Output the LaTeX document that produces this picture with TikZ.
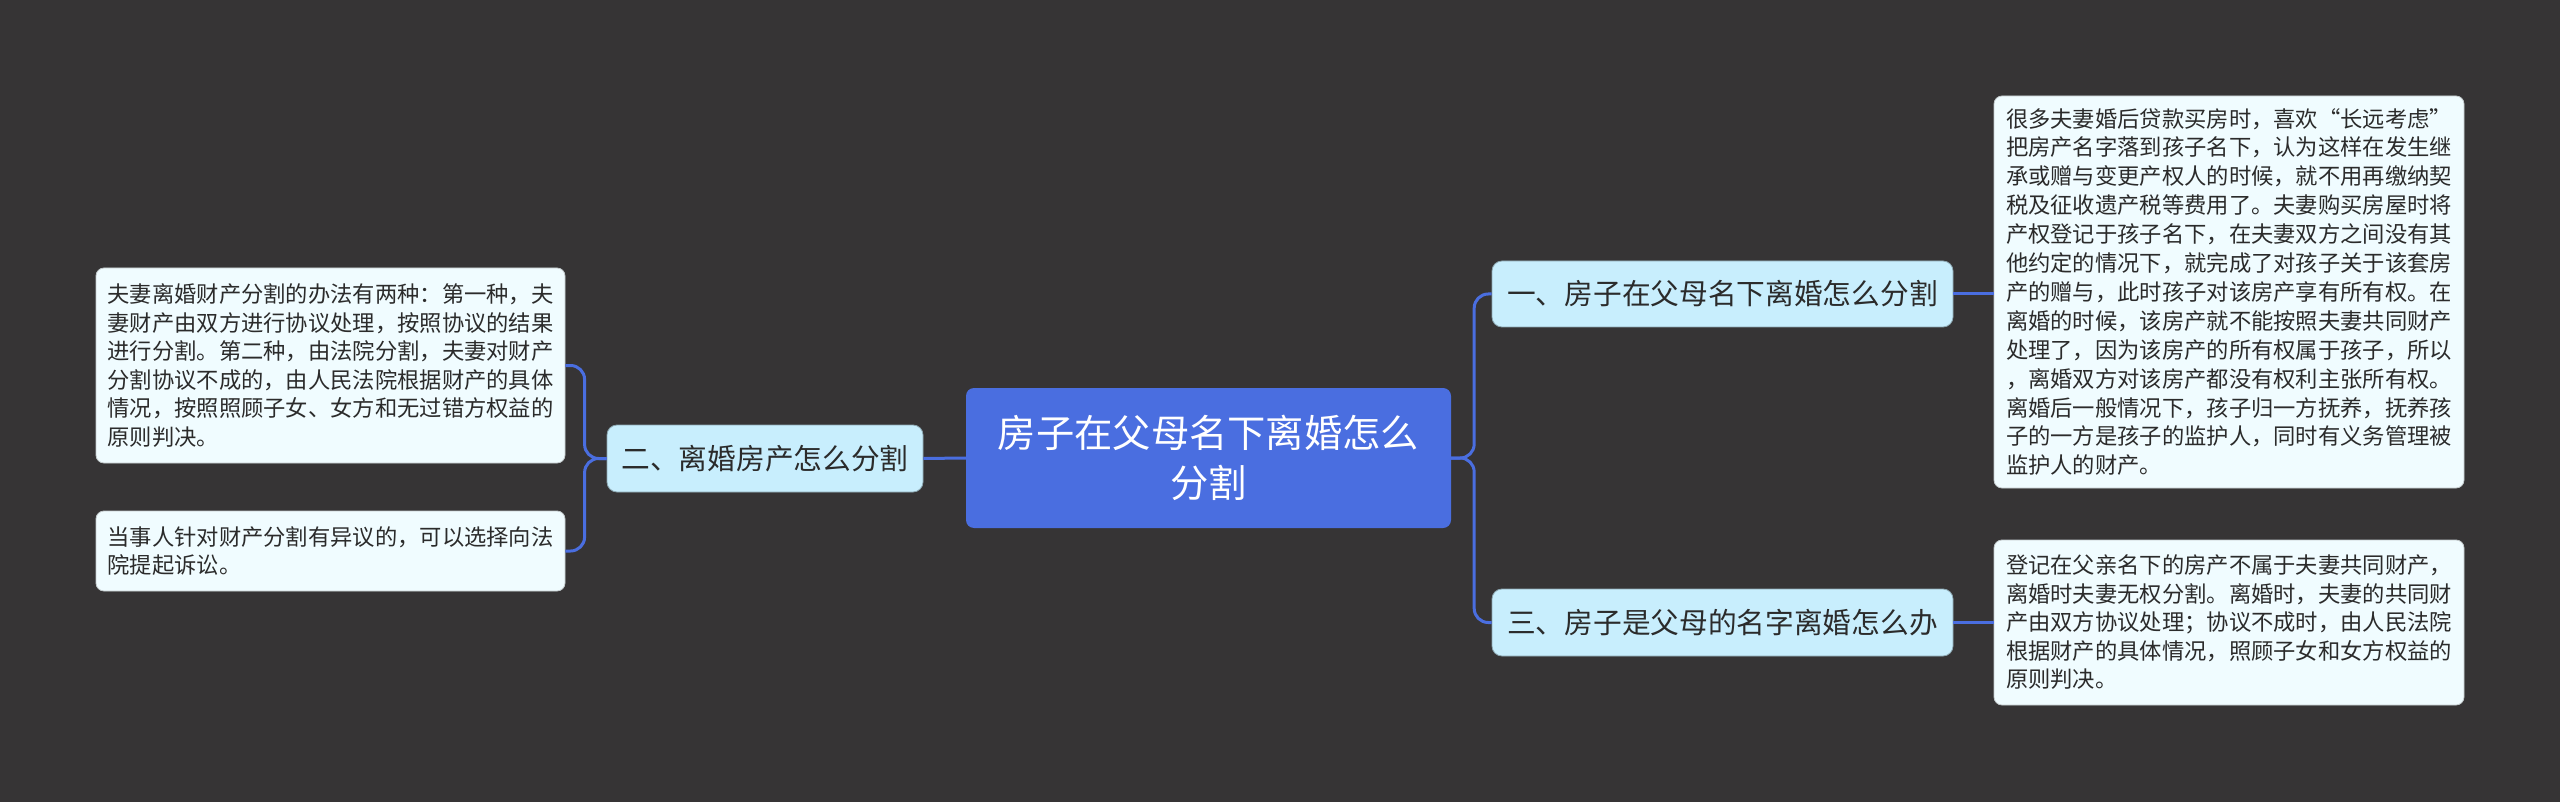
\documentclass[tikz,border=0pt]{standalone}
\usepackage{fontspec}
\setmainfont{Noto Sans CJK SC}
\definecolor{bg}{HTML}{363435}
\definecolor{mainblue}{HTML}{4A6EE0}
\definecolor{branchfill}{HTML}{C8EEFD}
\definecolor{leaffill}{HTML}{F0FCFF}
\definecolor{txt}{HTML}{2B2B2B}
\tikzset{
  mainbox/.style={rectangle, rounded corners=8pt, fill=mainblue, text=white, align=center, inner sep=0pt, font=\fontsize{38.3}{50}\selectfont},
  branchbox/.style={rectangle, rounded corners=10pt, fill=branchfill, draw=branchfill!70!black, line width=0.8pt, text=txt, align=center, inner sep=0pt, font=\fontsize{28.7}{34}\selectfont},
  leafbox/.style={rectangle, rounded corners=8pt, fill=leaffill, draw=leaffill!60!gray, line width=0.8pt, text=txt, align=left, inner sep=0pt, font=\fontsize{22.3}{28.5}\selectfont},
  conn/.style={draw=mainblue, line width=3pt, rounded corners=14pt}
}
\begin{document}
\begin{tikzpicture}[x=1pt,y=-1pt]
\fill[bg] (0,0) rectangle (2560,802);
\useasboundingbox (0,0) rectangle (2560,802);

\node[mainbox, minimum width=485pt, minimum height=140pt] (c) at (1208.5,458) {房子在父母名下离婚怎么\\分割};

\node[branchbox, minimum width=461pt, minimum height=66pt] (b1) at (1722.5,294) {一、房子在父母名下离婚怎么分割};
\node[branchbox, minimum width=461pt, minimum height=67pt] (b3) at (1722.5,622.5) {三、房子是父母的名字离婚怎么办};
\node[branchbox, minimum width=316pt, minimum height=67pt] (b2) at (765,458.5) {二、离婚房产怎么分割};

\node[leafbox, font=\fontsize{22.3}{28.9}\selectfont, minimum width=470pt, minimum height=392pt] (r1) at (2229,292) {很多夫妻婚后贷款买房时，喜欢“长远考虑”\\把房产名字落到孩子名下，认为这样在发生继\\承或赠与变更产权人的时候，就不用再缴纳契\\税及征收遗产税等费用了。夫妻购买房屋时将\\产权登记于孩子名下，在夫妻双方之间没有其\\他约定的情况下，就完成了对孩子关于该套房\\产的赠与，此时孩子对该房产享有所有权。在\\离婚的时候，该房产就不能按照夫妻共同财产\\处理了，因为该房产的所有权属于孩子，所以\\，离婚双方对该房产都没有权利主张所有权。\\离婚后一般情况下，孩子归一方抚养，抚养孩\\子的一方是孩子的监护人，同时有义务管理被\\监护人的财产。};

\node[leafbox, minimum width=470pt, minimum height=165pt] (r2) at (2229,622.5) {登记在父亲名下的房产不属于夫妻共同财产，\\离婚时夫妻无权分割。离婚时，夫妻的共同财\\产由双方协议处理；协议不成时，由人民法院\\根据财产的具体情况，照顾子女和女方权益的\\原则判决。};

\node[leafbox, minimum width=469pt, minimum height=195pt] (l1) at (330.5,365.5) {夫妻离婚财产分割的办法有两种：第一种，夫\\妻财产由双方进行协议处理，按照协议的结果\\进行分割。第二种，由法院分割，夫妻对财产\\分割协议不成的，由人民法院根据财产的具体\\情况，按照照顾子女、女方和无过错方权益的\\原则判决。};

\node[leafbox, minimum width=469pt, minimum height=80pt] (l2) at (330.5,551) {当事人针对财产分割有异议的，可以选择向法\\院提起诉讼。};

\draw[conn] (c.east) -- ++(23,0) |- (b1.west);
\draw[conn] (c.east) -- ++(23,0) |- (b3.west);
\draw[conn] (c.west) -- (b2.east);
\draw[conn] (b2.west) -- ++(-22,0) |- (l1.east);
\draw[conn] (b2.west) -- ++(-22,0) |- (l2.east);
\draw[conn] (b1.east) -- (b1.east -| r1.west);
\draw[conn] (b3.east) -- (b3.east -| r2.west);
\end{tikzpicture}
\end{document}
